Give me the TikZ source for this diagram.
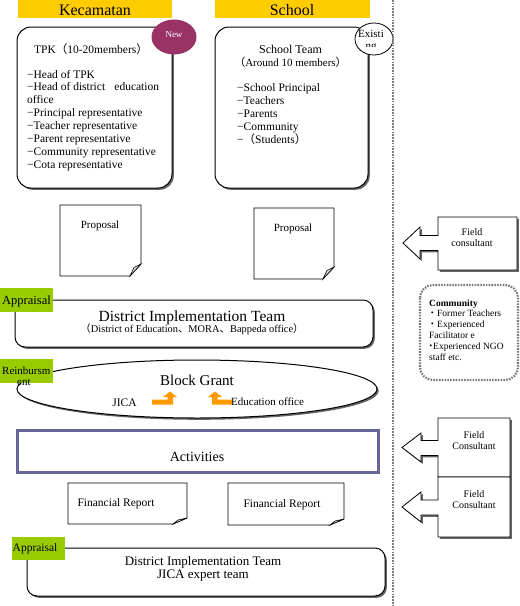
\documentclass[tikz,border=0pt]{standalone}
\usepackage{fontspec}
\setmainfont{Liberation Serif}
\newfontfamily\cjk{Noto Sans CJK JP}
\usetikzlibrary{shadows}
\definecolor{ybar}{HTML}{FFCC00}
\definecolor{agreen}{HTML}{99CC00}
\definecolor{newc}{HTML}{993366}
\definecolor{actc}{HTML}{666699}
\definecolor{orng}{HTML}{FF9900}
\definecolor{dotg}{HTML}{7A7A7A}
\newcommand{\fsz}[1]{\fontsize{#1}{#1}\selectfont}
\begin{document}
\begin{tikzpicture}[x=1pt,y=-1pt,
  shad/.style={drop shadow={shadow xshift=1.8pt,shadow yshift=-1.8pt,fill=black,opacity=0.6}},
  rbox/.style={draw=black,line width=1pt,fill=white,shad},
  notebox/.style={draw=black,line width=0.8pt,fill=white},
  flap/.style={draw=black,line width=0.6pt,fill=black!12},
  txt/.style={inner sep=0pt,anchor=base},
  ltxt/.style={inner sep=0pt,anchor=base west},
  bar/.style={fill=ybar},
  gbox/.style={fill=agreen},
  dotln/.style={draw=dotg,line width=2.2pt,dash pattern=on 1.6pt off 1.2pt},
  callbox/.style={draw=black,line width=0.8pt,fill=white,shad},
  orarrow/.style={fill=orng}
]
\useasboundingbox (0,0) rectangle (520,606);
% header bars
\path[bar] (18,0) rectangle (172,18);
\path[bar] (215,0) rectangle (370,18);
\node[txt,font=\fsz{16}] (kec) at (95,15.3) {Kecamatan};
\node[txt,font=\fsz{16}] (sch) at (292,15.3) {School};
% TPK box
\path[rbox,rounded corners=14pt] (17,27) rectangle (172,188);
\fill[newc] (174,37) ellipse [x radius=22.5pt,y radius=17.5pt];
\node[txt,font=\fsz{9},text=white] (newt) at (174,37) {New};
\node[txt,font=\fsz{11.5}] (tpkt) at (91,53) {TPK{\cjk （}10-20members{\cjk ）}};
\foreach \t [count=\i] in {−Head of TPK, −Head of district\hspace{0.8em}education, office, −Principal representative, −Teacher representative, −Parent representative, −Community representative, −Cota representative}
  \node[ltxt,font=\fsz{11.5}] (tpk\i) at (27,{65.1+12.9*\i}) {\t};
% School box
\path[rbox,rounded corners=14pt] (215,27) rectangle (368,188);
\node[txt,font=\fsz{12}] (stt) at (290.5,53) {School Team};
\node[txt,font=\fsz{11}] (sts) at (290.5,66) {{\cjk （}Around 10 members{\cjk ）}};
\foreach \t [count=\i] in {−School Principal, −Teachers, −Parents, −Community, −{\cjk （}Students{\cjk ）}}
  \node[ltxt,font=\fsz{11.5}] (sl\i) at (237,{78+13*\i}) {\t};
\draw[line width=0.8pt,fill=white] (374,39) ellipse [x radius=19pt,y radius=16pt];
\node[txt,font=\fsz{11}] (ex1) at (371,37) {Existi};
\begin{scope}
  \clip (356,40) rectangle (392,46);
  \node[txt,font=\fsz{11}] (ex2) at (371,49.5) {ng};
\end{scope}
% dotted separator
\draw[dotln] (393,0) -- (393,606);
% proposals
\path[notebox] (60,205) -- (141,205) -- (141,264) -- (130,276) -- (60,276) -- cycle;
\path[flap] (141,264) -- (134,267.5) -- (130,276) -- cycle;
\node[txt,font=\fsz{11}] (prop1) at (100,228) {Proposal};
\path[notebox] (254,208) -- (334,208) -- (334,267) -- (323,279) -- (254,279) -- cycle;
\path[flap] (334,267) -- (327,270.5) -- (323,279) -- cycle;
\node[txt,font=\fsz{11}] (prop2) at (293,231) {Proposal};
% District implementation team 1
\path[rbox,rounded corners=10pt] (15,300) rectangle (373,347);
\path[gbox] (0,288) rectangle (53,312);
\node[ltxt,font=\fsz{12.5}] (ap1) at (2,304.5) {Appraisal};
\node[txt,font=\fsz{15.5}] (dit1) at (192,321) {District Implementation Team};
\node[txt,font=\fsz{10.4}] (dit1s) at (192,332.5) {{\cjk （}District of Education{\cjk 、}MORA{\cjk 、}Bappeda office{\cjk ）}};
% Block grant
\path[rbox] (197,389) ellipse [x radius=180pt,y radius=29pt];
\path[gbox] (0,359) rectangle (53,383);
\node[ltxt,font=\fsz{11}] (rb1) at (2,374) {Reinbursm};
\begin{scope}
  \clip (0,372) rectangle (60,384);
  \node[ltxt,font=\fsz{11}] (rb2) at (17,385) {ent};
\end{scope}
\node[txt,font=\fsz{15}] (bg) at (197,385) {Block Grant};
\node[txt,font=\fsz{11.5}] (jica) at (124.5,406) {JICA};
\path[orarrow] (152,399.5) -- (167.5,399.5) -- (167.5,397) -- (163,397) -- (170,391.5) -- (177,397) -- (173,397) -- (173,404.5) -- (152,404.5) -- cycle;
\path[orarrow] (232,399.5) -- (217.5,399.5) -- (217.5,397) -- (222,397) -- (215,391.5) -- (208,397) -- (212,397) -- (212,404.5) -- (232,404.5) -- cycle;
\node[ltxt,font=\fsz{11}] (edu) at (231,405.5) {Education office};
% Activities
\path[draw=actc,line width=3pt,fill=white,shad] (17,430) rectangle (378,472);
\node[txt,font=\fsz{14}] (act) at (197,461) {Activities};
% financial reports
\path[notebox] (68,483) -- (187,483) -- (187,518) -- (173,524) -- (68,524) -- cycle;
\path[flap] (187,518) -- (178,520) -- (173,524) -- cycle;
\node[txt,font=\fsz{11.5}] (fr1) at (116,506) {Financial Report};
\path[notebox] (228,483) -- (344,483) -- (344,519) -- (330,525) -- (228,525) -- cycle;
\path[flap] (344,519) -- (335,521) -- (330,525) -- cycle;
\node[txt,font=\fsz{11.5}] (fr2) at (282,507) {Financial Report};
% District implementation team 2
\path[rbox,rounded corners=10pt] (27,548) rectangle (385,596);
\path[gbox] (12,537) rectangle (65,560);
\node[ltxt,font=\fsz{11.5}] (ap2) at (12.5,551) {Appraisal};
\node[txt,font=\fsz{13}] (dit2) at (203,565) {District Implementation Team};
\node[txt,font=\fsz{13}] (jet) at (203,578) {JICA expert team};
% field consultants
\path[callbox] (517,217) -- (438,217) -- (438,235.5) -- (420,235.5) -- (420,227) -- (403,243) -- (420,259) -- (420,250.5) -- (438,250.5) -- (438,270) -- (517,270) -- cycle;
\node[txt,font=\fsz{10}] (fc1a) at (472,235.5) {Field};
\node[txt,font=\fsz{10}] (fc1b) at (472,246) {consultant};
\path[callbox] (510,418) -- (438,418) -- (438,440.5) -- (421,440.5) -- (421,433) -- (402,447.5) -- (421,462) -- (421,455.5) -- (438,455.5) -- (438,477) -- (510,477) -- cycle;
\node[txt,font=\fsz{10}] (fc2a) at (474,438.3) {Field};
\node[txt,font=\fsz{10}] (fc2b) at (474,449.3) {Consultant};
\path[callbox] (510,477) -- (438,477) -- (438,500) -- (421,500) -- (421,492) -- (402,507) -- (421,522) -- (421,515) -- (438,515) -- (438,537) -- (510,537) -- cycle;
\node[txt,font=\fsz{10}] (fc3a) at (474,497.3) {Field};
\node[txt,font=\fsz{10}] (fc3b) at (474,508.3) {Consultant};
% community box
\draw[dotln,rounded corners=13pt] (420,285) rectangle (518,380);
\node[ltxt,font=\fsz{9.5}] (cm1) at (429,306) {\textbf{Community}};
\node[ltxt,font=\fsz{9.5}] (cm2) at (427.5,316.5) {{\cjk ・}Former Teachers};
\node[ltxt,font=\fsz{9.5}] (cm3) at (427.5,327) {{\cjk ・}Experienced};
\node[ltxt,font=\fsz{9.5}] (cm4) at (429,338) {Facilitator e};
\node[ltxt,font=\fsz{9.5}] (cm5) at (426,349) {{\cjk ・}\hspace{-2.5pt}Experienced NGO};
\node[ltxt,font=\fsz{9.5}] (cm6) at (429,360) {staff etc.};
\end{tikzpicture}
\end{document}
